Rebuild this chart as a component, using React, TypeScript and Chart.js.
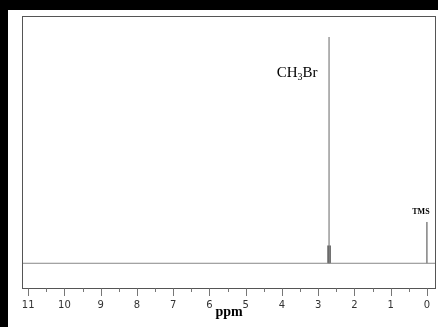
import { useEffect, useRef } from "react";
import { Chart, registerables } from "chart.js";

Chart.register(...registerables);

// x axis (ppm, reversed)
const axisMin = -0.25;
const axisMax = 11.17;
const tickValues = [0, 1, 2, 3, 4, 5, 6, 7, 8, 9, 10, 11];
const minorTickValues = [0.5, 1.5, 2.5, 3.5, 4.5, 5.5, 6.5, 7.5, 8.5, 9.5, 10.5];
const axisTitle = "ppm";

// spectrum
const baselinePpm = [11.17, -0.25];
const baselineIntensity = [0, 0];
const peakPpm = [2.7, 0];
const peakHeights = [9.15, 1.67];
const integralPpm = [2.7];
const integralHeights = [0.72];

// labels
const mainLabelParts = ["CH", "3", "Br"];
const tmsLabel = "TMS";

const yMin = -1;
const yMax = 10;

const decorPlugin = {
  id: "nmrDecor",
  beforeDraw(chart: any) {
    const { ctx, width, height } = chart;
    ctx.save();
    ctx.fillStyle = "#000";
    ctx.fillRect(0, 0, width, height);
    ctx.fillStyle = "#fff";
    ctx.fillRect(8, 10, width - 8, height - 10);
    ctx.restore();
  },
  afterDraw(chart: any) {
    const { ctx, chartArea } = chart;
    const xs = chart.scales.x;
    const ys = chart.scales.y;
    ctx.save();
    // frame
    ctx.strokeStyle = "#555";
    ctx.lineWidth = 1;
    ctx.strokeRect(
      chartArea.left + 0.5,
      chartArea.top + 0.5,
      chartArea.right - chartArea.left - 1,
      chartArea.bottom - chartArea.top
    );
    // ticks
    ctx.strokeStyle = "#777";
    const b = chartArea.bottom + 0.5;
    tickValues.forEach((v) => {
      const px = Math.round(xs.getPixelForValue(v)) + 0.5;
      ctx.beginPath();
      ctx.moveTo(px, b);
      ctx.lineTo(px, b + 7.5);
      ctx.stroke();
    });
    minorTickValues.forEach((v) => {
      const px = Math.round(xs.getPixelForValue(v)) + 0.5;
      ctx.beginPath();
      ctx.moveTo(px, b);
      ctx.lineTo(px, b + 3.5);
      ctx.stroke();
    });
    // CH3Br label
    const px0 = xs.getPixelForValue(peakPpm[0]);
    const mainFont = '15px "Liberation Serif"';
    const subFont = '10px "Liberation Serif"';
    ctx.fillStyle = "#000";
    ctx.textBaseline = "alphabetic";
    ctx.font = mainFont;
    const w1 = ctx.measureText(mainLabelParts[0]).width;
    const w3 = ctx.measureText(mainLabelParts[2]).width;
    ctx.font = subFont;
    const w2 = ctx.measureText(mainLabelParts[1]).width;
    let sx = px0 - 11.5 - (w1 + w2 + w3);
    const baseY = ys.getPixelForValue(peakHeights[0]) + 40;
    ctx.font = mainFont;
    ctx.fillText(mainLabelParts[0], sx, baseY);
    sx += w1;
    ctx.font = subFont;
    ctx.fillText(mainLabelParts[1], sx, baseY + 3);
    sx += w2;
    ctx.font = mainFont;
    ctx.fillText(mainLabelParts[2], sx, baseY);
    // TMS label
    const px1 = xs.getPixelForValue(peakPpm[1]);
    ctx.font = 'bold 8px "Liberation Serif"';
    ctx.textAlign = "center";
    ctx.fillText(tmsLabel, px1 - 6, ys.getPixelForValue(peakHeights[1]) - 7.5);
    ctx.restore();
  },
};

export default function App() {
  const ref = useRef<HTMLCanvasElement | null>(null);
  useEffect(() => {
    document.body.style.margin = "0";
    document.body.style.background = "#000";
    const canvas = ref.current;
    if (!canvas) return;
    const line = (xv: number[], yv: number[]) => xv.map((x, i) => ({ x, y: yv[i] }));
    const chart = new Chart(canvas, {
      type: "scatter",
      data: {
        datasets: [
          {
            data: line(baselinePpm, baselineIntensity),
            showLine: true,
            borderColor: "#888",
            borderWidth: 1,
            pointRadius: 0,
          },
          {
            data: line([peakPpm[0], peakPpm[0]], [0, peakHeights[0]]),
            showLine: true,
            borderColor: "#999",
            borderWidth: 1.5,
            pointRadius: 0,
          },
          {
            data: line([peakPpm[1], peakPpm[1]], [0, peakHeights[1]]),
            showLine: true,
            borderColor: "#444",
            borderWidth: 1,
            pointRadius: 0,
          },
          {
            data: line([integralPpm[0], integralPpm[0]], [0, integralHeights[0]]),
            showLine: true,
            borderColor: "#000",
            borderWidth: 3,
            pointRadius: 0,
          },
        ],
      },
      options: {
        animation: false,
        responsive: false,
        layout: { padding: { left: 22, top: 16, right: 2, bottom: 0 } },
        plugins: { legend: { display: false }, tooltip: { enabled: false } },
        scales: {
          x: {
            type: "linear",
            reverse: true,
            min: axisMin,
            max: axisMax,
            grid: { display: false },
            border: { display: false },
            afterBuildTicks: (scale: any) => {
              scale.ticks = tickValues.map((v) => ({ value: v }));
            },
            afterFit: (scale: any) => {
              scale.height = 39;
            },
            ticks: {
              autoSkip: false,
              maxRotation: 0,
              padding: 3,
              color: "#333",
              font: { family: "DejaVu Sans", size: 10 },
            },
            title: {
              display: true,
              text: axisTitle,
              color: "#000",
              font: { family: "Liberation Serif", size: 14, weight: "bold" },
              padding: { top: 0, bottom: 6 },
            },
          },
          y: { display: false, min: yMin, max: yMax },
        },
      },
      plugins: [decorPlugin],
    });
    return () => chart.destroy();
  }, []);
  return (
    <div style={{ width: 438, height: 327 }}>
      <canvas ref={ref} width={438} height={327} style={{ display: "block" }} />
    </div>
  );
}
